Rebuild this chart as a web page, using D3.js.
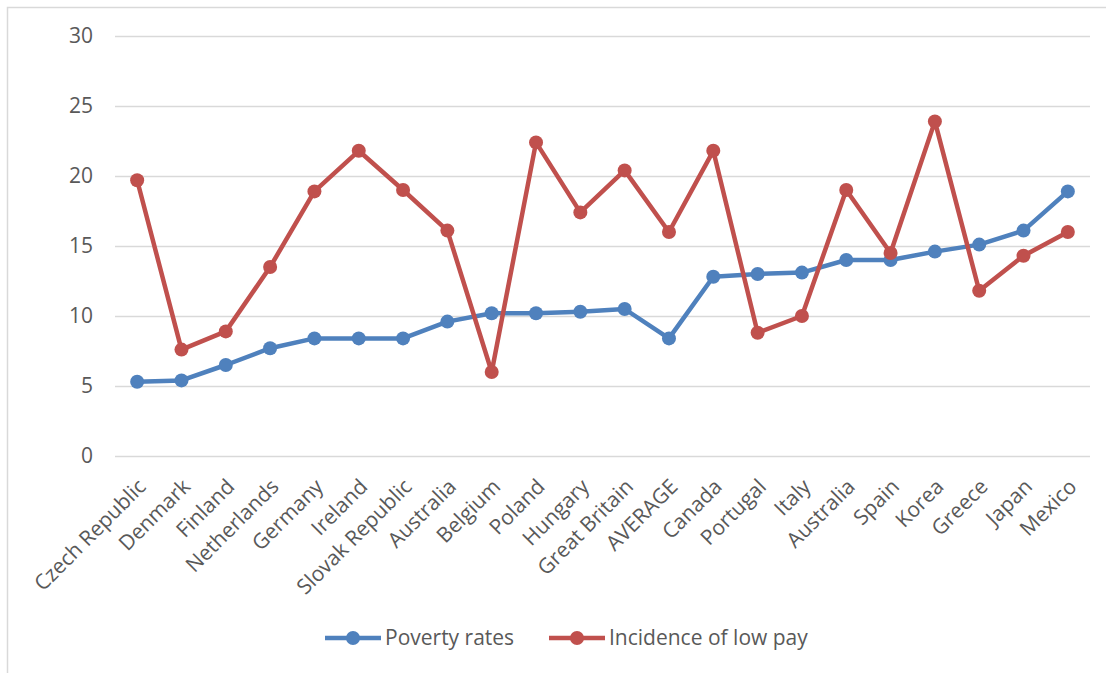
<!DOCTYPE html>
<html>
<head>
<meta charset="utf-8">
<script src="https://cdn.jsdelivr.net/npm/d3@7"></script>
<style>
  body { margin: 0; background: #fff; }
  text { font-family: "Open Sans", sans-serif; fill: #595959; }
</style>
</head>
<body>
<div id="chart"></div>
<script>
// categories along the x axis
const countries = ["Czech Republic", "Denmark", "Finland", "Netherlands", "Germany", "Ireland",
  "Slovak Republic", "Australia", "Belgium", "Poland", "Hungary", "Great Britain", "AVERAGE",
  "Canada", "Portugal", "Italy", "Australia", "Spain", "Korea", "Greece", "Japan", "Mexico"];

// series values
const povertyRates = [5.3, 5.4, 6.5, 7.7, 8.4, 8.4, 8.4, 9.6, 10.2, 10.2, 10.3, 10.5, 8.4,
  12.8, 13.0, 13.1, 14.0, 14.0, 14.6, 15.1, 16.1, 18.9];
const lowPay = [19.7, 7.6, 8.9, 13.5, 18.9, 21.8, 19.0, 16.1, 6.0, 22.4, 17.4, 20.4, 16.0,
  21.8, 8.8, 10.0, 19.0, 14.5, 23.9, 11.8, 14.3, 16.0];

const yTicks = [0, 5, 10, 15, 20, 25, 30];

const series = [
  { name: "Poverty rates", values: povertyRates, color: "#4f81bd" },
  { name: "Incidence of low pay", values: lowPay, color: "#c0504d" }
];

const W = 1106, H = 673;
const margin = { top: 36, right: 16, bottom: 217, left: 115 },
    width = W - margin.left - margin.right,
    height = H - margin.top - margin.bottom;

const svg = d3.select("#chart")
    .append("svg")
    .attr("width", W)
    .attr("height", H);

// outer frame
svg.append("rect")
    .attr("x", 7.5).attr("y", 7.5)
    .attr("width", W + 10).attr("height", H + 10)
    .attr("fill", "none")
    .attr("stroke", "#d9d9d9")
    .attr("stroke-width", 1.5);

const g = svg.append("g")
    .attr("transform", `translate(${margin.left},${margin.top})`);

// x: one band per country, points sit in the middle
const x = d3.scaleBand()
    .domain(d3.range(countries.length))
    .range([0, width]);
const cx = i => x(i) + x.bandwidth() / 2;

const y = d3.scaleLinear()
    .domain([0, 30])
    .range([height, 0]);

// gridlines + y labels
g.append("g")
    .call(d3.axisLeft(y).tickValues(yTicks).tickSize(-width).tickPadding(22))
    .call(a => a.select(".domain").remove())
    .call(a => a.selectAll(".tick line").attr("stroke", "#d9d9d9").attr("stroke-width", 1.5))
    .call(a => a.selectAll(".tick text")
        .attr("font-family", "Open Sans").attr("font-size", 21).attr("fill", "#595959"));

// x labels, rotated
g.append("g")
    .selectAll("text")
    .data(countries)
    .join("text")
    .attr("text-anchor", "end")
    .attr("font-size", 21)
    .attr("transform", (d, i) => `translate(${cx(i) + 10},${height + 32}) rotate(-45)`)
    .text(d => d);

// lines and markers
const line = d3.line()
    .x((d, i) => cx(i))
    .y(d => y(d));

series.forEach(s => {
    g.append("path")
        .datum(s.values)
        .attr("fill", "none")
        .attr("stroke", s.color)
        .attr("stroke-width", 4.5)
        .attr("stroke-linejoin", "round")
        .attr("d", line);
    g.selectAll(null)
        .data(s.values)
        .join("circle")
        .attr("cx", (d, i) => cx(i))
        .attr("cy", d => y(d))
        .attr("r", 7)
        .attr("fill", s.color);
});

// legend
const legend = svg.append("g").attr("transform", "translate(325,638)");
const legendX = [0, 224];
series.forEach((s, i) => {
    const lg = legend.append("g").attr("transform", `translate(${legendX[i]},0)`);
    lg.append("line")
        .attr("x1", 0).attr("x2", 56)
        .attr("stroke", s.color).attr("stroke-width", 4.5);
    lg.append("circle").attr("cx", 28).attr("r", 7).attr("fill", s.color);
    lg.append("text")
        .attr("x", 60).attr("dy", "0.35em")
        .attr("font-size", 21)
        .text(s.name);
});
</script>
</body>
</html>
